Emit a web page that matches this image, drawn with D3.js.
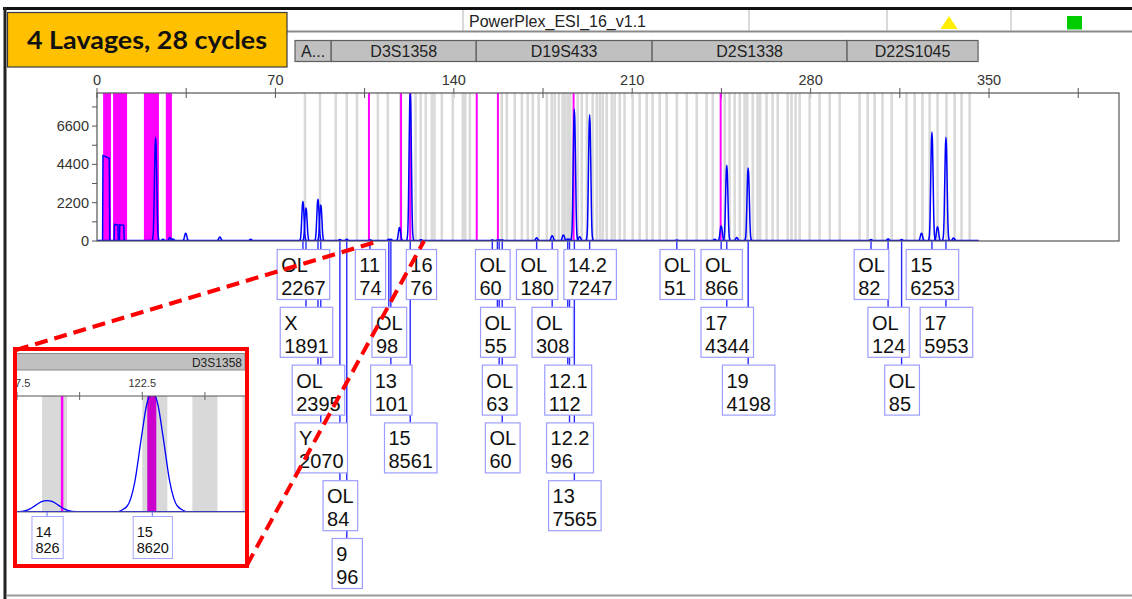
<!DOCTYPE html>
<html>
<head>
<meta charset="utf-8">
<script src="https://cdn.jsdelivr.net/npm/d3@7"></script>
<style>
  html, body { margin: 0; padding: 0; background: #fff; }
  svg { display: block; font-family: "Liberation Sans", Arial, sans-serif; }
</style>
</head>
<body>
<svg id="chart" width="1132" height="599"></svg>
<script>
// ---------------- data ----------------
const titleText = "4 Lavages, 28 cycles";
const panelName = "PowerPlex_ESI_16_v1.1";

const sizeTicks = [0, 35, 70, 105, 140, 175, 210, 245, 280, 315, 350, 385];
const sizeTickLabels = [0, 70, 140, 210, 280, 350];
const rfuTicks = [0, 1100, 2200, 3300, 4400, 5500, 6600, 7700];
const rfuTickLabels = [0, 2200, 4400, 6600];

const markerNames = ["A...", "D3S1358", "D19S433", "D2S1338", "D22S1045"];
const markerStart = [77.7, 91.9, 148.8, 217.8, 294.3];
const markerEnd   = [91.9, 148.8, 217.8, 294.3, 345.7];

// allele bins (bp)
const binSizes = [
  81.6, 87.5, 93.7, 98.0, 102.0, 110.2, 114.1, 119.0, 123.0, 125.0, 127.0, 129.0,
  131.4, 132.4, 135.3, 139.6, 143.5, 144.5, 146.3,
  158.8, 160.8, 163.9, 166.7, 169.0, 171.0, 173.3, 176.5, 178.4, 179.6, 181.2,
  182.7, 183.7, 184.7, 185.7, 188.6, 190.2, 192.2, 194.5, 196.1, 197.3, 198.4,
  200.0, 202.0, 203.1, 205.1, 207.0, 210.2, 212.9, 215.7, 218.0, 220.8, 223.5,
  227.5, 231.4, 235.3, 239.2, 241.6, 246.3, 248.2, 250.2, 252.2, 254.1, 255.1,
  257.3, 259.2, 260.2, 262.7, 265.1, 267.1, 271.0, 272.5, 274.1, 275.7, 279.6,
  283.5, 287.5, 291.4, 299.2, 302.4, 305.1, 308.2, 311.8, 317.6, 320.8, 323.9,
  326.7, 329.8, 333.3, 336.5, 339.2, 342.4
];

// highlighted (called) bins, bp intervals
const calledStart = [2.4, 6.3, 18.4, 27.0, 106.5, 119.25, 122.7, 148.8, 157.1, 186.8, 244.5];
const calledEnd   = [5.5, 11.8, 24.3, 29.4, 106.9, 119.35, 123.06, 149.2, 157.5, 187.2, 244.9];

// saturated off-scale signal at the start of the run
const plateauStart = [2.2, 6.7, 8.8];
const plateauEnd   = [5.0, 8.4, 10.7];
const plateauRfu   = [4900, 950, 930];

// unlabelled peaks
const peakSize = [23.0, 25.9, 28.6, 29.8, 34.8, 48.2, 60.3, 118.7, 183.0, 189.4, 242.4, 251.0, 323.5, 329.8, 336.1];
const peakRfu  = [5950, 100, 200, 120, 450, 230, 100, 780, 350, 250, 100, 200, 440, 820, 170];

// labelled peaks
const alleleSize = [80.8, 82.0, 86.7, 87.8, 95.3, 98.0, 107.1, 114.5, 115.3, 122.9, 127.1,
                    155.1, 157.1, 157.8, 159.0, 172.5, 178.6, 184.7, 185.4, 187.3, 193.3,
                    227.5, 244.9, 247.1, 255.5, 303.7, 310.4, 315.7, 327.6, 333.1];
const alleleName = ["OL", "X", "OL", "Y", "OL", "9", "11", "OL", "13", "15", "16",
                    "OL", "OL", "OL", "OL", "OL", "OL", "12.1", "12.2", "13", "14.2",
                    "OL", "OL", "17", "19", "OL", "OL", "OL", "15", "17"];
const alleleRfu  = [2267, 1891, 2395, 2070, 84, 96, 74, 98, 101, 8561, 76,
                    60, 55, 63, 60, 180, 308, 112, 96, 7565, 7247,
                    51, 866, 4344, 4198, 82, 124, 85, 6253, 5953];

// enlarged D3S1358 view
const insetMarker = "D3S1358";
const insetTicks = [117.5, 120, 122.5, 125];
const insetTickLabels = [117.5, 122.5];
const insetSize = [118.7, 122.9];
const insetName = ["14", "15"];
const insetRfu  = [826, 8620];

// ---------------- drawing ----------------
const svg = d3.select("#chart");
const plot = { left: 97, right: 1119, top: 93, bottom: 241 };
const x = d3.scaleLinear().domain([0, 401]).range([plot.left, plot.right]);
const y = d3.scaleLinear().domain([0, 8500]).range([plot.bottom, plot.top]);

const BLUE = "#0000ff";
const MAGENTA = "#ff00ff";
const BIN_GRAY = "#d9d9d9";

// peak outline (offset in bp, fraction of height)
const profOffset = [-1.4, -1.0, -0.7, -0.45, -0.22, 0, 0.22, 0.45, 0.7, 1.0, 1.4];
const profShape  = [0, 0.05, 0.25, 0.6, 0.9, 1, 0.9, 0.6, 0.25, 0.05, 0];
function peakPoints(s, h) {
  return profOffset.map((d, i) => [s + d, h * profShape[i]]);
}

svg.append("rect").attr("width", 1132).attr("height", 599).attr("fill", "#fff");

// window frame
svg.append("line").attr("x1", 3).attr("x2", 1132).attr("y1", 8.5).attr("y2", 8.5)
  .attr("stroke", "#111").attr("stroke-width", 3);
svg.append("line").attr("x1", 5).attr("x2", 5).attr("y1", 7).attr("y2", 599)
  .attr("stroke", "#222").attr("stroke-width", 3);
svg.append("line").attr("x1", 6).attr("x2", 1132).attr("y1", 595.5).attr("y2", 595.5)
  .attr("stroke", "#9a9a9a").attr("stroke-width", 2);

// header row
svg.append("line").attr("x1", 287).attr("x2", 1132).attr("y1", 31.5).attr("y2", 31.5)
  .attr("stroke", "#8a8a8a").attr("stroke-width", 2);
[463, 749, 887, 1011].forEach(sx => {
  svg.append("line").attr("x1", sx).attr("x2", sx).attr("y1", 10).attr("y2", 31)
    .attr("stroke", "#b5b5b5").attr("stroke-width", 1);
});
svg.append("text").attr("x", 469).attr("y", 27).attr("font-size", 16).attr("fill", "#222")
  .text(panelName);
svg.append("path").attr("d", "M949,16 L957.5,29 L940.5,29 Z").attr("fill", "#ffee00");
svg.append("rect").attr("x", 1067).attr("y", 16).attr("width", 15).attr("height", 13.5)
  .attr("fill", "#00cc00");

// title box
svg.append("rect").attr("x", 7.5).attr("y", 12.5).attr("width", 279.5).attr("height", 54.5)
  .attr("fill", "#ffc000").attr("stroke", "#3a3a3a").attr("stroke-width", 1.2);
const title = svg.append("text").attr("x", 147).attr("y", 48.5).attr("text-anchor", "middle")
  .attr("font-family", "Lato, 'Open Sans', sans-serif").attr("font-weight", 700)
  .attr("font-size", 24).attr("fill", "#111").text(titleText);
title.attr("textLength", 240).attr("lengthAdjust", "spacingAndGlyphs");

// marker bar
const markers = svg.append("g");
markerNames.forEach((m, i) => {
  const x0 = x(markerStart[i]), x1 = x(markerEnd[i]);
  markers.append("rect").attr("x", x0).attr("y", 40.5).attr("width", x1 - x0).attr("height", 21)
    .attr("fill", "#c0c0c0").attr("stroke", "#5e5e5e").attr("stroke-width", 1.2);
  markers.append("text").attr("x", (x0 + x1) / 2).attr("y", 56.5).attr("text-anchor", "middle")
    .attr("font-size", 16).attr("fill", "#222").text(m);
});

// size axis (top)
const topAxis = svg.append("g");
topAxis.selectAll("line.tick").data(sizeTicks).join("line")
  .attr("x1", d => x(d)).attr("x2", d => x(d)).attr("y1", plot.top - 5).attr("y2", plot.top + 5)
  .attr("stroke", "#555").attr("stroke-width", 1);
topAxis.selectAll("text").data(sizeTickLabels).join("text")
  .attr("x", d => x(d)).attr("y", 85).attr("text-anchor", "middle")
  .attr("font-size", 14.5).attr("fill", "#333").text(d => d);

// RFU axis (left)
const leftAxis = svg.append("g");
leftAxis.selectAll("line").data(rfuTicks).join("line")
  .attr("x1", plot.left - 5).attr("x2", plot.left).attr("y1", d => y(d)).attr("y2", d => y(d))
  .attr("stroke", "#555").attr("stroke-width", 1);
leftAxis.selectAll("text").data(rfuTickLabels).join("text")
  .attr("x", 89).attr("y", d => y(d) + 5).attr("text-anchor", "end")
  .attr("font-size", 14.5).attr("fill", "#333").text(d => d);

// plot area
svg.append("clipPath").attr("id", "plotClip").append("rect")
  .attr("x", plot.left).attr("y", plot.top).attr("width", plot.right - plot.left)
  .attr("height", plot.bottom - plot.top);
const area = svg.append("g").attr("clip-path", "url(#plotClip)");

area.selectAll("rect.bin").data(binSizes).join("rect").attr("class", "bin")
  .attr("x", d => x(d - 0.5)).attr("width", x(1) - x(0)).attr("y", plot.top)
  .attr("height", plot.bottom - plot.top).attr("fill", BIN_GRAY);

area.selectAll("rect.called").data(calledStart).join("rect").attr("class", "called")
  .attr("x", (d, i) => {
    const w = x(calledEnd[i]) - x(d);
    return w < 2 ? (x(d) + x(calledEnd[i])) / 2 - 1 : x(d);
  })
  .attr("width", (d, i) => Math.max(2, x(calledEnd[i]) - x(d)))
  .attr("y", plot.top).attr("height", plot.bottom - plot.top).attr("fill", MAGENTA);

const traceLine = d3.line().x(p => x(p[0])).y(p => y(p[1])).curve(d3.curveMonotoneX);
const straight = d3.line().x(p => x(p[0])).y(p => y(p[1]));

// baseline of the trace
area.append("line").attr("x1", x(0)).attr("x2", x(346)).attr("y1", y(0) - 0.5).attr("y2", y(0) - 0.5)
  .attr("stroke", BLUE).attr("stroke-width", 1.5);

plateauStart.forEach((s, i) => {
  const e = plateauEnd[i], h = plateauRfu[i];
  area.append("path")
    .attr("d", straight([[s, 0], [s + 0.15, h], [e - 0.2, h * 0.97], [e, 0]]))
    .attr("fill", "none").attr("stroke", BLUE).attr("stroke-width", 1.5);
});

const allPeaks = peakSize.map((s, i) => [s, peakRfu[i]])
  .concat(alleleSize.map((s, i) => [s, alleleRfu[i]]));
area.selectAll("path.peak").data(allPeaks).join("path").attr("class", "peak")
  .attr("d", d => traceLine(peakPoints(d[0], d[1])))
  .attr("fill", "none").attr("stroke", BLUE).attr("stroke-width", 1.5)
  .attr("stroke-linejoin", "round");

// frame
svg.append("rect").attr("x", plot.left).attr("y", plot.top)
  .attr("width", plot.right - plot.left).attr("height", plot.bottom - plot.top)
  .attr("fill", "none").attr("stroke", "#555").attr("stroke-width", 1.2);

// ---- allele label boxes, stacked so they do not overlap ----
const labelFont = 20;
const measure = svg.append("text").attr("font-size", labelFont).attr("visibility", "hidden");
function textWidth(t, size) {
  measure.attr("font-size", size).text(t);
  return measure.node().getComputedTextLength();
}
const labels = alleleSize.map((s, i) => {
  const w = Math.max(textWidth(alleleName[i], labelFont), textWidth(String(alleleRfu[i]), labelFont)) + 8;
  return { cx: x(s), w, name: alleleName[i], rfu: alleleRfu[i] };
}).sort((a, b) => a.cx - b.cx);

const rowRight = [];
labels.forEach(l => {
  l.left = l.cx - l.w / 2;
  let r = 0;
  while (r < rowRight.length && rowRight[r] + 4 > l.left) r++;
  rowRight[r] = l.left + l.w;
  l.row = r;
});

const rowTop0 = 249, rowPitch = 57.8, boxH = 50;
const labelLayer = svg.append("g");
labelLayer.selectAll("line").data(labels).join("line")
  .attr("x1", d => d.cx).attr("x2", d => d.cx)
  .attr("y1", plot.bottom + 0.5).attr("y2", d => rowTop0 + d.row * rowPitch)
  .attr("stroke", "#2a2aff").attr("stroke-width", 1.4);
const boxes = labelLayer.selectAll("g.box").data(labels).join("g").attr("class", "box")
  .attr("transform", d => `translate(${d.left},${rowTop0 + d.row * rowPitch})`);
boxes.append("rect").attr("x", 0.5).attr("y", 0.5).attr("width", d => d.w).attr("height", boxH)
  .attr("fill", "#fff").attr("stroke", "#9d9dff").attr("stroke-width", 1.2);
boxes.append("text").attr("x", 4.5).attr("y", 23).attr("font-size", labelFont).attr("fill", "#111")
  .text(d => d.name);
boxes.append("text").attr("x", 4.5).attr("y", 46).attr("font-size", labelFont).attr("fill", "#111")
  .text(d => d.rfu);

// ---- enlarged D3S1358 view ----
const ib = { left: 16, right: 245, top: 396, bottom: 512 };
const xi = d3.scaleLinear().domain([117.46, 126.6]).range([ib.left, ib.right]);
const yi = d3.scaleLinear().domain([0, 8350]).range([ib.bottom, ib.top]);
const inset = svg.append("g");
inset.append("rect").attr("x", 15).attr("y", 349).attr("width", 232).attr("height", 217)
  .attr("fill", "#fff");
svg.append("clipPath").attr("id", "insetClip").append("rect")
  .attr("x", ib.left).attr("y", 350).attr("width", ib.right - ib.left).attr("height", 215);
svg.append("clipPath").attr("id", "insetPlotClip").append("rect")
  .attr("x", ib.left).attr("y", ib.top).attr("width", ib.right - ib.left).attr("height", ib.bottom - ib.top);
const ig = inset.append("g").attr("clip-path", "url(#insetClip)");
ig.append("rect").attr("x", ib.left).attr("y", 353.5).attr("width", ib.right - ib.left).attr("height", 16.5)
  .attr("fill", "#c0c0c0").attr("stroke", "#888").attr("stroke-width", 1);
ig.append("text").attr("x", ib.right - 3).attr("y", 366.5).attr("text-anchor", "end")
  .attr("font-size", 12).attr("fill", "#222").text(insetMarker);
ig.selectAll("text.itick").data(insetTickLabels).join("text").attr("class", "itick")
  .attr("x", d => xi(d)).attr("y", 387).attr("text-anchor", "middle")
  .attr("font-size", 11).attr("fill", "#333").text(d => d);

const ip = ig.append("g").attr("clip-path", "url(#insetPlotClip)");
ip.selectAll("rect.bin").data(binSizes).join("rect").attr("class", "bin")
  .attr("x", d => xi(d - 0.5)).attr("width", xi(1) - xi(0)).attr("y", ib.top)
  .attr("height", ib.bottom - ib.top).attr("fill", BIN_GRAY);
ip.selectAll("rect.called").data(calledStart).join("rect").attr("class", "called")
  .attr("x", d => xi(d)).attr("width", (d, i) => Math.max(2, xi(calledEnd[i]) - xi(d)))
  .attr("y", ib.top).attr("height", ib.bottom - ib.top)
  .attr("fill", (d, i) => (xi(calledEnd[i]) - xi(d)) > 4 ? "#cc00cc" : MAGENTA);

ig.append("line").attr("x1", ib.left).attr("x2", ib.right).attr("y1", ib.top).attr("y2", ib.top)
  .attr("stroke", "#555").attr("stroke-width", 1);
ig.selectAll("line.itk").data(insetTicks).join("line").attr("class", "itk")
  .attr("x1", d => xi(d)).attr("x2", d => xi(d)).attr("y1", ib.top - 4).attr("y2", ib.top + 4)
  .attr("stroke", "#666").attr("stroke-width", 1);
ig.append("line").attr("x1", ib.left).attr("x2", ib.right).attr("y1", ib.bottom).attr("y2", ib.bottom)
  .attr("stroke", "#777").attr("stroke-width", 1);

const iline = d3.line().x(p => xi(p[0])).y(p => yi(p[1])).curve(d3.curveMonotoneX);
ip.append("line").attr("x1", ib.left).attr("x2", ib.right).attr("y1", ib.bottom - 0.5).attr("y2", ib.bottom - 0.5)
  .attr("stroke", BLUE).attr("stroke-width", 1.2);
ip.selectAll("path.ipk").data(insetSize).join("path").attr("class", "ipk")
  .attr("d", (s, i) => iline(peakPoints(s, insetRfu[i])))
  .attr("fill", "none").attr("stroke", BLUE).attr("stroke-width", 1.3);

const insetFont = 14.5;
const insetLabels = insetSize.map((s, i) => {
  const w = Math.max(textWidth(insetName[i], insetFont), textWidth(String(insetRfu[i]), insetFont)) + 7;
  return { cx: xi(s), w, name: insetName[i], rfu: insetRfu[i] };
});
ig.selectAll("line.iconn").data(insetLabels).join("line").attr("class", "iconn")
  .attr("x1", d => d.cx).attr("x2", d => d.cx).attr("y1", ib.bottom).attr("y2", 516)
  .attr("stroke", "#6a6aff").attr("stroke-width", 1);
const ibox = ig.selectAll("g.ibox").data(insetLabels).join("g").attr("class", "ibox")
  .attr("transform", d => `translate(${d.cx - d.w / 2},516)`);
ibox.append("rect").attr("x", 0.5).attr("y", 0.5).attr("width", d => d.w).attr("height", 42)
  .attr("fill", "#fff").attr("stroke", "#a5a5ff").attr("stroke-width", 1);
ibox.append("text").attr("x", 4).attr("y", 21).attr("font-size", insetFont).attr("fill", "#111").text(d => d.name);
ibox.append("text").attr("x", 4).attr("y", 37).attr("font-size", insetFont).attr("fill", "#111").text(d => d.rfu);

inset.append("rect").attr("x", 15).attr("y", 349).attr("width", 232).attr("height", 217)
  .attr("fill", "none").attr("stroke", "#ff0000").attr("stroke-width", 4);

// dashed lead lines from the enlarged view to the locus
const lead = svg.append("g").attr("stroke", "#ff0000").attr("stroke-width", 4)
  .attr("stroke-dasharray", "13,7").attr("fill", "none");
lead.append("line").attr("x1", 16).attr("y1", 350).attr("x2", 379).attr("y2", 241);
lead.append("line").attr("x1", 247).attr("y1", 565).attr("x2", 424).attr("y2", 241);

measure.remove();
</script>
</body>
</html>
